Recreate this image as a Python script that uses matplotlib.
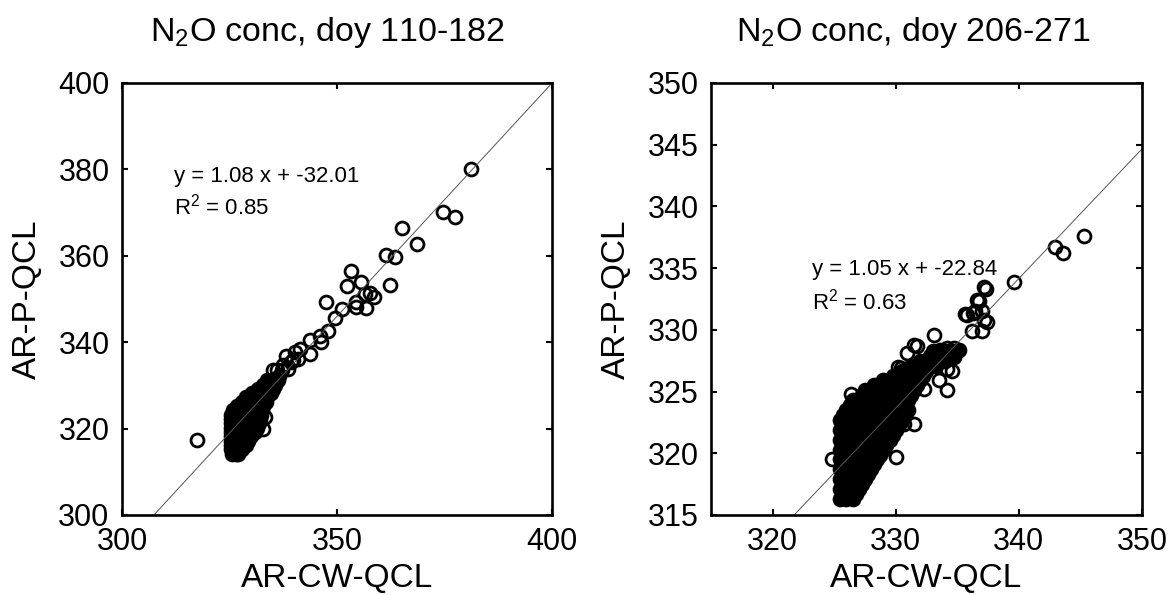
import numpy as np
import matplotlib
matplotlib.use("Agg")
import matplotlib.pyplot as plt

plt.rcParams['font.family'] = ['Liberation Sans', 'DejaVu Sans']
plt.rcParams['mathtext.fontset'] = 'custom'
plt.rcParams['mathtext.rm'] = 'Liberation Sans'
plt.rcParams['mathtext.it'] = 'Liberation Sans:italic'
plt.rcParams['mathtext.bf'] = 'Liberation Sans:bold'

# ---------------- data: left panel (doy 110-182) ----------------
left_title = r'N$_2$O conc, doy 110-182'
left_slope, left_intercept, left_r2 = 1.08, -32.01, 0.85
left_lim = (300, 400)
left_xticks = [300, 350, 400]
left_yticks = [300, 320, 340, 360, 380, 400]

# dense core, rows of constant y with the x values read along each row
left_core_y = [314.2, 315.2, 316.2, 317.2, 318.2, 319.2, 320.2, 321.2, 322.2,
               323.2, 324.2, 325.2, 326.2, 327.2, 328.2, 329.2, 330.2, 331.2]
left_core_x = [
    [325.6, 326.4, 327.0],
    [325.4, 326.4, 327.4, 328.0],
    [325.4, 326.4, 327.4, 328.4, 328.8],
    [325.4, 326.4, 327.4, 328.4, 329.4],
    [325.4, 326.4, 327.4, 328.4, 329.4, 330.1],
    [325.4, 326.4, 327.4, 328.4, 329.4, 330.4, 330.9],
    [325.4, 326.4, 327.4, 328.4, 329.4, 330.4, 331.4],
    [325.4, 326.4, 327.4, 328.4, 329.4, 330.4, 331.4, 331.9],
    [325.4, 326.4, 327.4, 328.4, 329.4, 330.4, 331.4, 332.2],
    [325.4, 326.4, 327.4, 328.4, 329.4, 330.4, 331.4, 332.4],
    [325.8, 326.8, 327.8, 328.8, 329.8, 330.8, 331.8, 332.6],
    [326.8, 327.8, 328.8, 329.8, 330.8, 331.8, 332.8],
    [327.8, 328.8, 329.8, 330.8, 331.8, 332.8, 333.5],
    [328.8, 329.8, 330.8, 331.8, 332.8, 333.8],
    [330.2, 331.2, 332.2, 333.2, 334.2, 334.6],
    [331.6, 332.6, 333.6, 334.6, 335.1],
    [332.8, 333.8, 334.8, 335.6],
    [333.8, 334.8, 335.8, 336.3],
]
left_sparse_x = [317.4, 381.1, 374.6, 377.5, 365.1, 368.6, 361.4, 363.4, 362.4,
                 353.3, 355.6, 352.3, 347.5, 351.2, 354.5, 356.4, 357.6, 358.5,
                 356.8, 354.5, 349.5, 347.9, 346.0, 346.2, 343.7, 341.3, 343.7,
                 341.0, 338.1, 339.4, 335.2, 337.1, 333.2, 332.8, 336.0,
                 337.5, 340.2, 339.8, 336.6, 338.6]
left_sparse_y = [317.3, 380.2, 370.2, 369.0, 366.4, 362.8, 360.2, 359.8, 353.3,
                 356.5, 354.0, 352.9, 349.2, 347.8, 349.2, 351.2, 351.5, 350.5,
                 348.0, 348.1, 345.6, 342.5, 341.5, 340.0, 340.5, 338.5, 337.2,
                 336.2, 336.8, 335.4, 333.5, 333.5, 322.6, 320.0, 333.6,
                 334.8, 337.8, 335.9, 332.2, 333.9]

# ---------------- data: right panel (doy 206-271) ----------------
right_title = r'N$_2$O conc, doy 206-271'
right_slope, right_intercept, right_r2 = 1.05, -22.84, 0.63
right_lim = (315, 350)
right_xticks = [320, 330, 340, 350]
right_yticks = [315, 320, 325, 330, 335, 340, 345, 350]

right_core_y = [316.3, 316.7, 317.1, 317.5, 317.9, 318.3, 318.7, 319.1, 319.5,
                319.9, 320.3, 320.7, 321.1, 321.5, 321.9, 322.3, 322.7, 323.1,
                323.5, 323.9, 324.3, 324.7, 325.1, 325.5, 325.9, 326.3, 326.7,
                327.1, 327.5, 327.9, 328.3]
right_core_x = [
    [325.5, 326.0, 326.5],
    [325.75, 326.25, 326.75],
    [325.5, 326.0, 326.5, 327.0],
    [325.75, 326.25, 326.75, 327.25],
    [325.5, 326.0, 326.5, 327.0, 327.5],
    [325.75, 326.25, 326.75, 327.25, 327.75],
    [325.5, 326.0, 326.5, 327.0, 327.5, 328.0],
    [325.75, 326.25, 326.75, 327.25, 327.75, 328.25],
    [325.5, 326.0, 326.5, 327.0, 327.5, 328.0, 328.5],
    [325.75, 326.25, 326.75, 327.25, 327.75, 328.25, 328.75],
    [325.5, 326.0, 326.5, 327.0, 327.5, 328.0, 328.5, 329.0],
    [325.75, 326.25, 326.75, 327.25, 327.75, 328.25, 328.75, 329.25],
    [325.5, 326.0, 326.5, 327.0, 327.5, 328.0, 328.5, 329.0, 329.5],
    [325.75, 326.25, 326.75, 327.25, 327.75, 328.25, 328.75, 329.25, 329.75],
    [325.5, 326.0, 326.5, 327.0, 327.5, 328.0, 328.5, 329.0, 329.5, 330.0],
    [325.75, 326.25, 326.75, 327.25, 327.75, 328.25, 328.75, 329.25, 329.75, 330.25],
    [325.5, 326.0, 326.5, 327.0, 327.5, 328.0, 328.5, 329.0, 329.5, 330.0, 330.5],
    [325.75, 326.25, 326.75, 327.25, 327.75, 328.25, 328.75, 329.25, 329.75, 330.25, 330.75],
    [326.0, 326.5, 327.0, 327.5, 328.0, 328.5, 329.0, 329.5, 330.0, 330.5, 331.0],
    [326.25, 326.75, 327.25, 327.75, 328.25, 328.75, 329.25, 329.75, 330.25, 330.75],
    [326.5, 327.0, 327.5, 328.0, 328.5, 329.0, 329.5, 330.0, 330.5, 331.0],
    [327.25, 327.75, 328.25, 328.75, 329.25, 329.75, 330.25, 330.75, 331.25],
    [327.5, 328.0, 328.5, 329.0, 329.5, 330.0, 330.5, 331.0, 331.5],
    [328.25, 328.75, 329.25, 329.75, 330.25, 330.75, 331.25, 331.75],
    [329.0, 329.5, 330.0, 330.5, 331.0, 331.5, 332.0],
    [329.75, 330.25, 330.75, 331.25, 331.75, 332.25],
    [330.5, 331.0, 331.5, 332.0, 332.5],
    [331.25, 331.75, 332.25, 332.75, 333.25],
    [332.0, 332.5, 333.0, 333.5, 334.0],
    [332.75, 333.25, 333.75, 334.25, 334.75],
    [333.0, 333.5, 334.0, 334.5, 335.0],
]
right_sparse_x = [345.3, 342.9, 343.6, 339.6, 337.3, 336.8, 337.0, 335.8, 336.3,
                  337.4, 336.2, 337.0, 333.1, 331.7, 330.9, 330.4, 334.6, 333.5,
                  334.2, 331.5, 330.0, 324.8, 326.4, 329.1, 332.3, 333.6, 334.2,
                  334.7, 335.1, 333.9, 334.7, 337.2, 336.6, 335.6, 336.4, 337.2,
                  330.2, 331.5, 334.2, 330.7]
right_sparse_y = [337.6, 336.7, 336.2, 333.9, 333.3, 332.3, 331.5, 331.2, 331.4,
                  330.6, 329.9, 329.9, 329.6, 328.7, 328.1, 326.9, 326.7, 325.9,
                  325.1, 322.4, 319.7, 319.5, 324.8, 325.7, 325.2, 328.4, 328.5,
                  328.5, 328.4, 327.7, 327.8, 333.5, 332.4, 331.3, 331.5, 330.8,
                  327.0, 328.8, 326.8, 322.4]

xlabel_text = 'AR-CW-QCL'
ylabel_text = 'AR-P-QCL'


def flatten(rows_y, rows_x):
    xs, ys = [], []
    for yv, xr in zip(rows_y, rows_x):
        for xv in xr:
            xs.append(xv)
            ys.append(yv)
    return xs, ys


fig = plt.figure(figsize=(11.76, 5.95), dpi=100)
ax1 = fig.add_axes([122 / 1176, 80 / 595, 430 / 1176, 432 / 595])
ax2 = fig.add_axes([711 / 1176, 80 / 595, 431 / 1176, 432 / 595])

panels = [
    (ax1, left_title, left_slope, left_intercept, left_r2, left_lim, left_xticks,
     left_yticks, left_core_y, left_core_x, left_sparse_x, left_sparse_y,
     (312.1, 378.3), (312.1, 371.4), 0.478),
    (ax2, right_title, right_slope, right_intercept, right_r2, right_lim, right_xticks,
     right_yticks, right_core_y, right_core_x, right_sparse_x, right_sparse_y,
     (323.2, 334.85), (323.2, 332.3), 0.47),
]

mk = dict(linestyle='none', marker='o', markersize=9.3, markeredgecolor='black',
          markeredgewidth=2.0)

for (ax, title, slope, icpt, r2, lim, xt, yt, cy, cx, sx, sy, t1, t2, tx) in panels:
    cxs, cys = flatten(cy, cx)
    # thousands of overlapping rings in the core render as solid black
    ax.plot(cxs, cys, markerfacecolor='black', **mk)
    ax.plot(sx, sy, markerfacecolor='none', **mk)
    xl = np.array(lim, dtype=float)
    ax.plot(xl, slope * xl + icpt, color='#555555', linewidth=0.7)
    ax.set_xlim(lim)
    ax.set_ylim(lim)
    ax.set_xticks(xt)
    ax.set_yticks(yt)
    ax.tick_params(direction='in', length=4, width=1.5, top=True, right=True,
                   labelsize=22, pad=9)
    for sp in ax.spines.values():
        sp.set_linewidth(1.9)
    ax.set_title(title, fontsize=24.5, pad=30, x=tx)
    ax.set_xlabel(xlabel_text, fontsize=24, labelpad=4)
    ax.set_ylabel(ylabel_text, fontsize=24, labelpad=11)
    ax.text(t1[0], t1[1], 'y = %.2f x + %.2f' % (slope, icpt), fontsize=16,
            ha='left', va='center')
    ax.text(t2[0], t2[1], r'R$^2$ = %.2f' % r2, fontsize=16, ha='left', va='center')

fig.savefig('out.png', dpi=100)
